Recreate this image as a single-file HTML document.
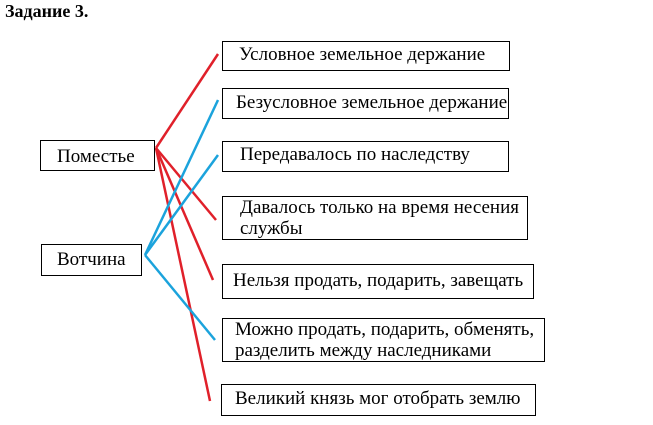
<!DOCTYPE html>
<html><head><meta charset="utf-8"><style>
body{margin:0;width:653px;height:425px;background:#fff;position:relative;overflow:hidden;font-family:"Liberation Serif","Noto Serif CJK SC",serif;}
.b{position:absolute;border:1px solid #000;box-sizing:border-box;font-size:19px;line-height:21px;color:#000;white-space:nowrap;}
</style></head><body>
<div style="position:absolute;left:5px;top:1px;font-weight:bold;font-size:18px;">Задание 3.</div>
<svg style="position:absolute;left:0;top:0" width="653" height="425">
<g stroke="#e0202a" stroke-width="2.5" fill="none">
<line x1="156" y1="148" x2="218" y2="54"/>
<line x1="156" y1="148" x2="216" y2="220"/>
<line x1="156" y1="148" x2="213" y2="280"/>
<line x1="156" y1="148" x2="210" y2="401"/>
</g>
<g stroke="#1ba3dc" stroke-width="2.5" fill="none">
<line x1="145" y1="255" x2="218" y2="100"/>
<line x1="145" y1="255" x2="218" y2="155"/>
<line x1="145" y1="255" x2="215" y2="340"/>
</g>
</svg>
<div class="b" style="left:40px;top:140px;width:115px;height:31px;padding:5px 0 0 16px;">Поместье</div>
<div class="b" style="left:41px;top:244px;width:101px;height:32px;padding:4px 0 0 15px;">Вотчина</div>
<div class="b" style="left:222px;top:41px;width:288px;height:30px;padding:2px 0 0 16px;">Условное земельное держание</div>
<div class="b" style="left:222px;top:88px;width:287px;height:31px;padding:3px 0 0 13px;">Безусловное земельное держание</div>
<div class="b" style="left:222px;top:141px;width:287px;height:31px;padding:2px 0 0 17px;">Передавалось по наследству</div>
<div class="b" style="left:222px;top:196px;width:306px;height:44px;padding:0 0 0 17px;">Давалось только на время несения<br>службы</div>
<div class="b" style="left:222px;top:264px;width:312px;height:35px;padding:5px 0 0 10px;">Нельзя продать, подарить, завещать</div>
<div class="b" style="left:222px;top:318px;width:323px;height:44px;padding:0 0 0 12px;">Можно продать, подарить, обменять,<br>разделить между наследниками</div>
<div class="b" style="left:221px;top:384px;width:315px;height:32px;padding:3px 0 0 13px;">Великий князь мог отобрать землю</div>
</body></html>
